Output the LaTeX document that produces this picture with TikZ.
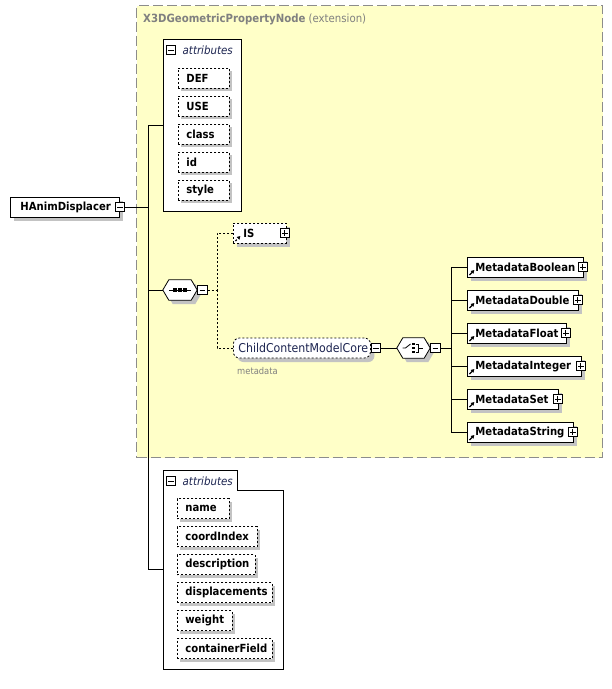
\documentclass[tikz,border=0pt]{standalone}
\usepackage{fontspec}
\setmainfont{DejaVu Sans Condensed}
\usetikzlibrary{shadows,calc,arrows.meta}
\definecolor{yel}{HTML}{FFFFC8}
\definecolor{shg}{HTML}{C3C3C3}
\definecolor{bord}{HTML}{8C8C8C}
\definecolor{ttl}{HTML}{808080}
\definecolor{hdr}{HTML}{1C2450}
\tikzset{
  sh/.style={copy shadow={shadow xshift=#1, shadow yshift=-#1, fill=shg, draw=none}},
  bx/.style={draw, fill=white, inner sep=0pt, minimum height=20pt, anchor=west,
     font=\bfseries\fontsize{11.2}{12}\selectfont, line width=0.8pt},
  attrbox/.style={bx, dash pattern=on 2pt off 2pt, sh=3pt},
  refarrow/.style={path picture={\draw[line width=1.2pt,-{Triangle[length=3.4pt,width=3.6pt]}]
     ([shift={(2pt,2pt)}]path picture bounding box.south west) -- ++(5pt,5pt);}},
  elbox/.style={bx, sh=4pt, refarrow},
  icon/.style={draw, fill=white, minimum size=9.5pt, inner sep=0pt, line width=0.8pt},
  iconminus/.style={icon, path picture={\draw[line width=0.8pt]
     ([xshift=2pt]path picture bounding box.west) -- ([xshift=-2pt]path picture bounding box.east);}},
  iconplus/.style={icon, path picture={\draw[line width=0.8pt]
     ([xshift=2pt]path picture bounding box.west) -- ([xshift=-2pt]path picture bounding box.east)
     ([yshift=-2pt]path picture bounding box.north) -- ([yshift=2pt]path picture bounding box.south);}},
  conn/.style={line width=0.8pt},
  dconn/.style={line width=0.8pt, dash pattern=on 2pt off 2pt},
  comp/.style={minimum width=#1, minimum height=20pt, inner sep=0pt},
  hdrtxt/.style={anchor=west, inner sep=0pt, text=hdr, font=\itshape\fontsize{11.4}{12}\selectfont},
}
\newcommand\drawocta[1]{%
  \fill[shg] ($(#1.west)+(4,4)$) -- ($(#1.north west)+(10,4)$) -- ($(#1.north east)+(-2,4)$)
    -- ($(#1.east)+(4,4)$) -- ($(#1.south east)+(-2,4)$) -- ($(#1.south west)+(10,4)$) -- cycle;
  \filldraw[fill=white, line width=0.8pt] (#1.west) -- ($(#1.north west)+(6,0)$) -- ($(#1.north east)+(-6,0)$)
    -- (#1.east) -- ($(#1.south east)+(-6,0)$) -- ($(#1.south west)+(6,0)$) -- cycle;}
\begin{document}
\begin{tikzpicture}[x=1pt,y=-1pt]
\useasboundingbox[fill=white] (0,0) rectangle (612,689);
% extension background
\node[draw=bord, fill=yel, line width=1pt, dash pattern=on 10pt off 4pt, minimum width=466pt,
  minimum height=452pt, anchor=north west, inner sep=0pt] (ext) at (136,5) {};
\node[anchor=west, inner sep=0pt, text=ttl, font=\fontsize{11.3}{12}\selectfont] (ttl) at (143,19)
  {\textbf{X3DGeometricPropertyNode} (extension)};

% root element
\node[bx, sh=4pt] (had) at (10,207) {\makebox[109pt][l]{\hspace{10pt}HAnimDisplacer}};
\node[iconminus] (hadi) at (had.east) {};

% top attributes group
\node[draw, fill=white, line width=0.8pt, minimum width=78pt, minimum height=172pt,
  anchor=north west, inner sep=0pt] (attA) at (163,39) {};
\node[iconminus] (attAi) at (171,50) {};
\node[hdrtxt] (attAt) at (182.5,50) {attributes};
\node[attrbox] (def) at (178,78) {\makebox[51pt][l]{\hspace{8pt}DEF}};
\node[attrbox] (use) at (178,106) {\makebox[51pt][l]{\hspace{8pt}USE}};
\node[attrbox] (cls) at (178,134) {\makebox[51pt][l]{\hspace{8pt}class}};
\node[attrbox] (idn) at (178,162) {\makebox[51pt][l]{\hspace{8pt}id}};
\node[attrbox] (sty) at (178,190) {\makebox[51pt][l]{\hspace{8pt}style}};

% bottom attributes group
\node[minimum width=120pt, minimum height=199pt, anchor=north west, inner sep=0pt] (attB) at (163,470) {};
\filldraw[fill=white, line width=0.8pt] (attB.north west) -- ++(74,0) -- ++(0,20) -| (attB.south east) -| (attB.north west);
\node[iconminus] (attBi) at (171,481) {};
\node[hdrtxt] (attBt) at (182.5,481) {attributes};
\node[attrbox] (nam) at (177,508.5) {\makebox[52pt][l]{\hspace{8pt}name}};
\node[attrbox] (crd) at (177,536.5) {\makebox[80pt][l]{\hspace{8pt}coordIndex}};
\node[attrbox] (dsc) at (177,564.5) {\makebox[78pt][l]{\hspace{8pt}description}};
\node[attrbox] (dsp) at (177,592.5) {\makebox[95pt][l]{\hspace{8pt}displacements}};
\node[attrbox] (wgt) at (177,620.5) {\makebox[55pt][l]{\hspace{8pt}weight}};
\node[attrbox] (cnt) at (177,648.5) {\makebox[95pt][l]{\hspace{8pt}containerField}};

% sequence compositor
\node[comp=34pt] (seq) at (180,290) {};
\drawocta{seq}
\draw[line width=0.8pt] ($(seq.west)+(6,0)$) -- ($(seq.east)+(-6,0)$);
\foreach \dx in {-5,0,5} \fill ($(seq.center)+(\dx-1.7,-1.7)$) rectangle ++(3.4,3.4);
\node[iconminus, anchor=west] (seqi) at (seq.east) {};

% trunk
\coordinate (tr) at (148,207);
\draw[conn] (hadi.east) -- (tr);
\draw[conn] (attA.west) -- (tr |- attA.west) -- (tr |- attB.west) -- (attB.west);
\draw[conn] (tr |- seq.west) -- (seq.west);

% IS and ChildContentModelCore
\node[bx, dash pattern=on 2pt off 2pt, sh=4pt, refarrow] (is) at (233,233) {\makebox[53pt][l]{\hspace{10pt}IS}};
\node[iconplus] (isi) at ([xshift=-2pt]is.east) {};
\node[bx, dash pattern=on 2pt off 2pt, rounded corners=6pt, sh=4pt, text=hdr,
  font=\fontsize{12.2}{13}\selectfont] (ccmc) at (233,348) {\makebox[137pt][l]{\hspace{5pt}ChildContentModelCore}};
\node[iconminus, anchor=west] (ccmci) at (ccmc.east) {};
\node[anchor=west, inner sep=0pt, text=ttl, font=\fontsize{9.3}{10}\selectfont] (mdl) at (237,371) {metadata};
\coordinate (sb) at (217,290);
\draw[dconn] (seqi.east) -- (sb);
\draw[dconn] (is.west) -| (sb);
\draw[dconn] (ccmc.west) -| (sb);

% choice compositor
\node[comp=33pt] (cho) at (413.5,348) {};
\drawocta{cho}
\draw[line width=0.8pt] ($(cho.center)+(-11,0)$) -- ++(3,0) -- ++(5,-4);
\foreach \dy in {-4,0,4} \fill ($(cho.center)+(-1.2,\dy-1.2)$) rectangle ++(2.4,2.4);
\draw[line width=0.8pt] ($(cho.center)+(2,-4)$) -- ++(3,0) -- ++(0,8) -- ++(-3,0)
  ($(cho.center)+(5,0)$) -- ++(4,0);
\node[iconminus, anchor=west] (choi) at (cho.east) {};
\draw[conn] (ccmci.east) -- (cho.west);
\coordinate (cb) at (451,348);
\draw[conn] (choi.east) -- (cb);

% metadata elements
\node[elbox] (mb) at (467,267) {\makebox[116pt][l]{\hspace{8pt}MetadataBoolean}};
\node[elbox] (md) at (467,300) {\makebox[111pt][l]{\hspace{8pt}MetadataDouble}};
\node[elbox] (mf) at (467,333) {\makebox[99pt][l]{\hspace{8pt}MetadataFloat}};
\node[elbox] (mi) at (467,366) {\makebox[114pt][l]{\hspace{8pt}MetadataInteger}};
\node[elbox] (ms) at (467,399) {\makebox[91pt][l]{\hspace{8pt}MetadataSet}};
\node[elbox] (mt) at (467,432) {\makebox[106pt][l]{\hspace{8pt}MetadataString}};
\foreach \n in {mb,md,mf,mi,ms,mt} {
  \node[iconplus] (\n i) at ([xshift=-1pt]\n.east) {};
  \draw[conn] (\n.west) -| (cb);
}
\end{tikzpicture}
\end{document}
